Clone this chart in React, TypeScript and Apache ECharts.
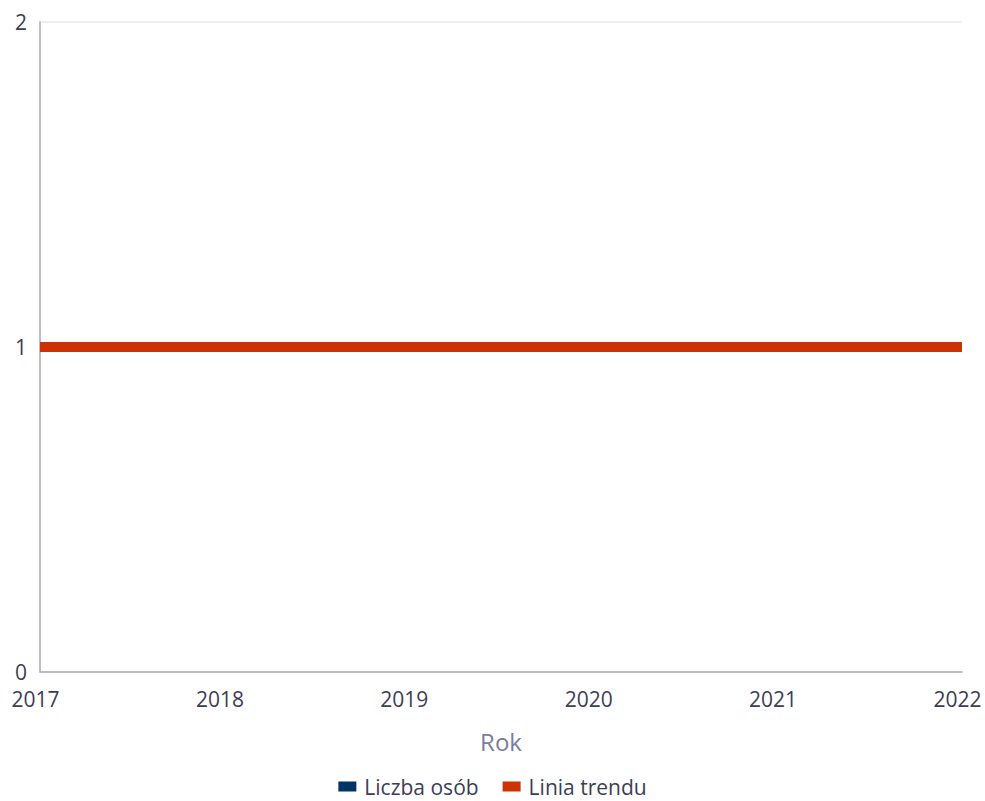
import React, { useEffect, useRef } from "react";
import * as echarts from "echarts";

const years = ["2017", "2018", "2019", "2020", "2021", "2022"];
const liczbaOsob = [0, 0, 0, 0, 0, 0];
const liniaTrendu = [1, 1, 1, 1, 1, 1];
const yMin = 0;
const yMax = 2;
const yInterval = 1;

export default function App() {
  const ref = useRef<HTMLDivElement>(null);
  useEffect(() => {
    if (!ref.current) return;
    const chart = echarts.init(ref.current, undefined, { renderer: "svg" });
    const font = "'Open Sans', 'Noto Sans', sans-serif";
    chart.setOption({
      animation: false,
      textStyle: { fontFamily: font },
      grid: {
        left: 40,
        right: 23,
        top: 22,
        bottom: 129,
        containLabel: false,
        outerBoundsMode: "none",
      },
      legend: {
        bottom: -1,
        left: "center",
        itemWidth: 18,
        itemHeight: 10,
        itemGap: 24,
        icon: "rect",
        textStyle: { fontFamily: font, fontSize: 21, color: "#3d3d55", padding: [0, 0, 0, 3] },
        data: ["Liczba osób", "Linia trendu"],
      },
      xAxis: {
        type: "category",
        data: years,
        boundaryGap: false,
        name: "Rok",
        nameLocation: "middle",
        nameGap: 57,
        nameTextStyle: { fontFamily: font, fontSize: 24, color: "#7b7ba3" },
        axisLine: { lineStyle: { color: "#a9a9c4", width: 1.5 } },
        axisTick: { show: false },
        axisLabel: {
          fontFamily: font,
          fontSize: 21,
          color: "#3d3d55",
          margin: 16,
          padding: [0, 9, 0, 0],
        },
        splitLine: { show: false },
      },
      yAxis: {
        type: "value",
        min: yMin,
        max: yMax,
        interval: yInterval,
        axisLine: { show: true, lineStyle: { color: "#a9a9c4", width: 1.5 } },
        axisTick: { show: false },
        axisLabel: {
          fontFamily: font,
          fontSize: 21,
          lineHeight: 14,
          color: "#3d3d55",
          margin: 13,
        },
        splitLine: { show: true, lineStyle: { color: "#e8e8f0", width: 1.5 } },
      },
      series: [
        {
          name: "Liczba osób",
          type: "bar",
          data: liczbaOsob,
          itemStyle: { color: "#003366" },
        },
        {
          name: "Linia trendu",
          type: "line",
          data: liniaTrendu,
          symbol: "none",
          lineStyle: { color: "#cc3300", width: 10 },
          itemStyle: { color: "#cc3300" },
        },
      ],
    });
    return () => chart.dispose();
  }, []);
  return (
    <div
      ref={ref}
      style={{ position: "absolute", left: 0, top: 0, width: 985, height: 801 }}
    />
  );
}
